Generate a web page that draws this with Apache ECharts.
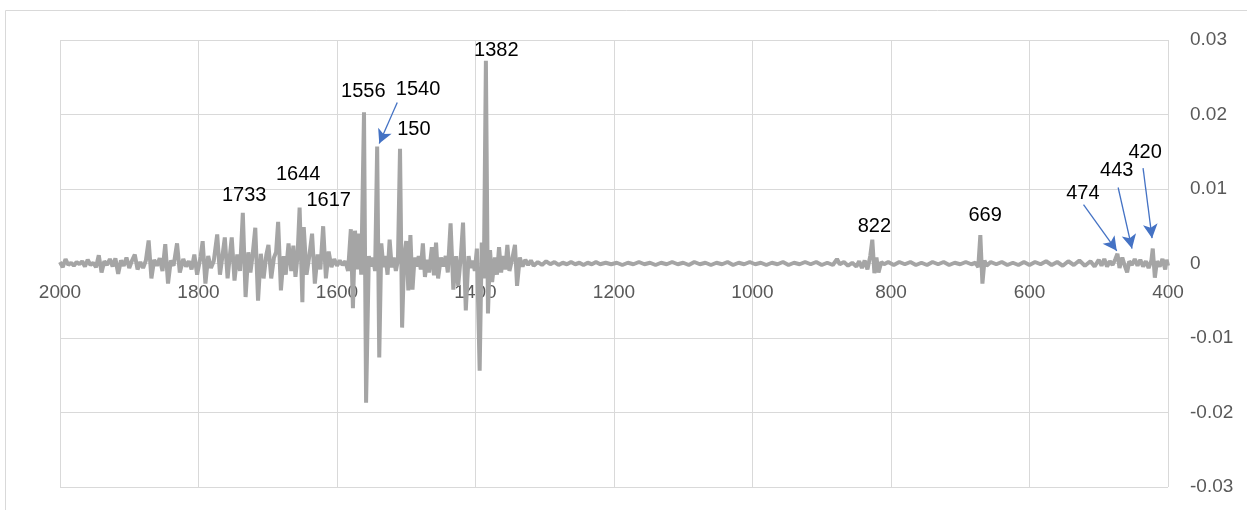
<!DOCTYPE html>
<html>
<head>
<meta charset="utf-8">
<script src="https://cdn.jsdelivr.net/npm/echarts@6/dist/echarts.min.js"></script>
<style>
  html, body { margin: 0; padding: 0; background: #fff; }
  #chart { width: 1247px; height: 510px; }
</style>
</head>
<body>
<div id="chart"></div>
<script>
const wavenumber = [
  2000, 1996, 1992, 1988, 1984, 1980, 1976, 1972, 1968, 1964, 1960, 1956, 1952, 1948, 1944, 1940,
  1936, 1932, 1928, 1924, 1920, 1916, 1912, 1908, 1904, 1900, 1896, 1892, 1888, 1884, 1880, 1876,
  1872, 1868, 1864, 1860, 1856, 1852, 1848, 1844, 1840, 1836, 1831, 1827, 1822, 1818, 1814, 1810,
  1806, 1802, 1797, 1794, 1790, 1786, 1782, 1778, 1773, 1769, 1766, 1762, 1758, 1755, 1752, 1748,
  1744, 1740, 1736, 1732, 1728, 1725, 1722, 1718, 1714, 1710, 1706, 1702, 1699, 1695, 1691, 1688,
  1685, 1681, 1677, 1674, 1670, 1666, 1663, 1660, 1657, 1654, 1650, 1648, 1644, 1640, 1636, 1632,
  1628, 1624, 1620, 1616, 1612, 1608, 1604, 1600, 1596, 1592, 1588, 1584, 1580, 1577, 1574, 1571,
  1568, 1565, 1561, 1558, 1554, 1551, 1548, 1545, 1542, 1539, 1536, 1533, 1530, 1527, 1524, 1521,
  1518, 1515, 1512, 1509, 1506, 1503, 1500, 1497, 1494, 1491, 1488, 1485, 1482, 1479, 1476, 1473,
  1470, 1467, 1463, 1460, 1457, 1454, 1450, 1447, 1443, 1440, 1436, 1432, 1428, 1425, 1421, 1418,
  1414, 1410, 1407, 1404, 1401, 1398, 1394, 1391, 1388, 1385, 1382, 1379, 1376, 1372, 1369, 1366,
  1363, 1360, 1357, 1354, 1351, 1347, 1343, 1340, 1336, 1332, 1328, 1324, 1320,
  1316, 1310, 1304, 1298, 1292, 1286, 1280, 1274, 1268, 1262, 1256, 1250, 1244, 1238, 1232, 1226,
  1220, 1212, 1204, 1196, 1188, 1180, 1172, 1164, 1156, 1148, 1140, 1132, 1124, 1116, 1108, 1100,
  1092, 1084, 1076, 1068, 1060, 1052, 1044, 1036, 1028, 1020, 1012, 1004, 996, 988, 980, 972,
  964, 956, 948, 940, 932, 924, 916, 908, 900, 892, 884, 878, 874, 868, 862, 856,
  850, 846, 842, 838, 834, 830, 827, 824, 821, 818, 814, 810,
  804, 796, 788, 780, 772, 764, 756, 748, 740, 732, 724, 716, 708, 700, 692, 684,
  678, 674, 671, 668, 665, 662, 656, 648, 640, 632, 624, 616, 608, 600, 592, 584,
  576, 568, 560, 552, 544, 536, 528, 520, 512, 506, 500, 496, 492, 488, 484, 480,
  476, 473, 470, 466, 462, 459, 456, 452, 448, 444, 440, 436, 432, 428, 424, 422,
  419, 416, 412, 408, 404, 402, 400
]

// 强度
const intensity = [
  0.0002, -0.0005, 0.0006, -0.0002, 0.0001, -0.0003, 0.0002, -0.0001, 0.0003, -0.0004, 0.0005, -0.0002, 0.0001, -0.0005, 0.0011, -0.0012,
  0.0003, -0.0002, 0.0006, -0.0004, 0.0007, -0.0014, 0.0004, -0.0003, 0.0008, -0.0006, 0.0004, 0.0012, -0.0008, 0.0002, -0.0006, 0.0004,
  0.0031, -0.0020, 0.0005, -0.0003, 0.0007, -0.0010, 0.0026, -0.0027, 0.0004, -0.0003, 0.0027, -0.0012, 0.0006, -0.0004, 0.0003, -0.0008,
  0.0012, -0.0015, 0.0009, 0.0030, -0.0027, 0.0010, -0.0006, 0.0003, 0.0039, -0.0015, 0.0006, 0.0035, -0.0020, 0.0008, 0.0035, -0.0023,
  0.0012, -0.0010, 0.0068, -0.0045, 0.0015, -0.0012, 0.0010, 0.0048, -0.0050, 0.0013, -0.0020, 0.0012, 0.0025, -0.0020, 0.0008, 0.0015,
  0.0056, -0.0036, 0.0010, -0.0015, 0.0027, -0.0010, 0.0024, -0.0018, 0.0010, 0.0075, -0.0052, 0.0049, -0.0015, 0.0010, 0.0040, -0.0027,
  0.0012, -0.0008, 0.0050, -0.0020, 0.0016, -0.0005, 0.0006, -0.0003, 0.0004, -0.0002, 0.0003, -0.0010, 0.0046, -0.0060, 0.0044, -0.0008,
  0.0040, -0.0015, 0.0203, -0.0187, 0.0010, -0.0004, 0.0008, -0.0010, 0.0157, -0.0126, 0.0027, -0.0005, 0.0010, -0.0015, 0.0032, -0.0005,
  0.0008, -0.0010, 0.0005, 0.0154, -0.0086, 0.0010, 0.0030, -0.0036, 0.0038, -0.0035, 0.0008, -0.0004, 0.0010, -0.0008, 0.0027, -0.0018,
  0.0005, -0.0012, 0.0022, -0.0016, 0.0028, -0.0020, 0.0008, -0.0004, 0.0010, -0.0012, 0.0054, -0.0035, 0.0010, -0.0030, 0.0012, 0.0055,
  -0.0063, 0.0010, -0.0006, 0.0004, -0.0010, 0.0020, -0.0144, 0.0028, -0.0020, 0.0272, -0.0067, 0.0018, -0.0025, 0.0008, -0.0015, 0.0022,
  -0.0012, 0.0010, -0.0008, 0.0025, -0.0010, 0.0006, 0.0025, -0.0030, 0.0008, -0.0004, 0.0005, -0.0002, 0.0004,
  -0.0003, 0.0002, -0.0002, 0.0003, -0.0001, 0.0002, -0.0002, 0.0001, -0.0001, 0.0002, -0.0001, 0.0001, -0.0002, 0.0001, -0.0001, 0.0002,
  -0.0001, 0.0001, -0.0001, 0.0001, -0.0002, 0.0001, -0.0001, 0.0002, -0.0001, 0.0001, -0.0002, 0.0001, -0.0001, 0.0002, -0.0001, 0.0001,
  -0.0002, 0.0002, -0.0001, 0.0001, -0.0002, 0.0001, -0.0001, 0.0002, -0.0002, 0.0001, -0.0001, 0.0002, -0.0001, 0.0001, -0.0002, 0.0001,
  -0.0001, 0.0002, -0.0002, 0.0001, -0.0001, 0.0002, -0.0001, 0.0002, -0.0002, 0.0001, -0.0002, 0.0006, -0.0001, 0.0002, -0.0003, 0.0001,
  -0.0004, 0.0003, -0.0006, 0.0004, -0.0008, 0.0010, 0.0032, -0.0013, 0.0008, -0.0012, 0.0002, -0.0001,
  0.0002, -0.0002, 0.0002, -0.0001, 0.0002, -0.0002, 0.0001, -0.0002, 0.0002, -0.0001, 0.0002, -0.0002, 0.0001, -0.0001, 0.0002, -0.0001,
  0.0001, -0.0005, 0.0038, -0.0027, 0.0004, -0.0003, 0.0002, -0.0001, 0.0002, -0.0002, 0.0001, -0.0002, 0.0002, -0.0002, 0.0002, -0.0001,
  0.0003, -0.0002, 0.0002, -0.0003, 0.0003, -0.0002, 0.0004, -0.0003, 0.0003, -0.0004, 0.0005, -0.0003, 0.0006, -0.0004, 0.0003, -0.0002,
  0.0006, 0.0013, -0.0006, 0.0008, -0.0004, -0.0012, 0.0003, -0.0002, 0.0006, -0.0003, 0.0005, -0.0004, 0.0003, -0.0006, 0.0004, 0.0020,
  -0.0019, 0.0003, -0.0004, 0.0006, -0.0008, 0.0005, -0.0003
]

const xTicks = [2000, 1800, 1600, 1400, 1200, 1000, 800, 600, 400]
const yTicks = [-0.03, -0.02, -0.01, 0, 0.01, 0.02, 0.03]

// 峰标注 (文字, 波数, 纵坐标)
const peakLabels = [
  ['1382', 1370, 0.0286],
  ['1556', 1562, 0.0231],
  ['1540', 1483, 0.0233],
  ['150', 1489, 0.0180],
  ['1733', 1734, 0.0091],
  ['1644', 1656, 0.0119],
  ['1617', 1612, 0.0085],
  ['822', 824, 0.0050],
  ['669', 664, 0.0064],
  ['474', 523, 0.0094],
  ['443', 474, 0.0125],
  ['420', 433, 0.0149]
]

// 箭头 (起点 -> 终点)
const arrows = [
  [1513, 0.0216, 1539, 0.0161],
  [522, 0.0079, 474, 0.0017],
  [472, 0.0102, 452, 0.0020],
  [436, 0.0128, 423, 0.0034]
]

const seriesData = wavenumber.map((w, i) => [w, intensity[i]])

const chartInstance = echarts.init(document.getElementById('chart'))
const font = "'Liberation Sans', Arial, sans-serif"
const gridColor = '#d9d9d9'

const option = {
  backgroundColor: '#fff',
  animation: false,
  textStyle: { fontFamily: font },
  grid: { left: 60, right: 79, top: 40, bottom: 23, containLabel: false, outerBoundsMode: 'none' },
  xAxis: {
    type: 'value',
    inverse: true,
    min: xTicks[xTicks.length - 1],
    max: xTicks[0],
    interval: 200,
    offset: -224, // 轴标签放在 0 线处
    axisLine: { onZero: false, show: false },
    axisTick: { show: false },
    axisLabel: {
      color: '#595959',
      fontSize: 19,
      margin: 20,
      fontFamily: font,
      formatter: v => String(v)
    },
    splitLine: { show: true, lineStyle: { color: gridColor, width: 1 } }
  },
  yAxis: {
    type: 'value',
    position: 'right',
    min: yTicks[0],
    max: yTicks[yTicks.length - 1],
    interval: 0.01,
    axisLine: { show: false },
    axisTick: { show: false },
    axisLabel: {
      color: '#595959',
      fontSize: 19,
      margin: 22,
      fontFamily: font,
      formatter: v => Math.abs(v) < 1e-9 ? '0' : String(Math.round(v * 100) / 100)
    },
    splitLine: { show: true, lineStyle: { color: gridColor, width: 1 } }
  },
  graphic: [
    {
      type: 'rect',
      silent: true,
      z: -1,
      shape: { x: 5.5, y: 10.5, width: 1300, height: 600 },
      style: { fill: null, stroke: gridColor, lineWidth: 1 }
    }
  ],
  series: [
    {
      type: 'line',
      data: seriesData,
      showSymbol: false,
      smooth: false,
      lineStyle: { color: '#a5a5a5', width: 4 },
      markPoint: {
        symbol: 'rect',
        symbolSize: 1,
        itemStyle: { color: 'rgba(0,0,0,0)' },
        label: {
          show: true,
          position: 'inside',
          color: '#000',
          fontSize: 20,
          fontFamily: font,
          formatter: p => p.name
        },
        data: peakLabels.map(p => ({ name: p[0], coord: [p[1], p[2]] }))
      },
      markLine: {
        silent: true,
        symbol: ['none', 'arrow'],
        symbolSize: [11, 14],
        label: { show: false },
        lineStyle: { color: '#4472c4', width: 1.3, type: 'solid' },
        data: arrows.map(a => [{ coord: [a[0], a[1]] }, { coord: [a[2], a[3]] }])
      }
    }
  ]
}

chartInstance.setOption(option)
</script>
</body>
</html>
